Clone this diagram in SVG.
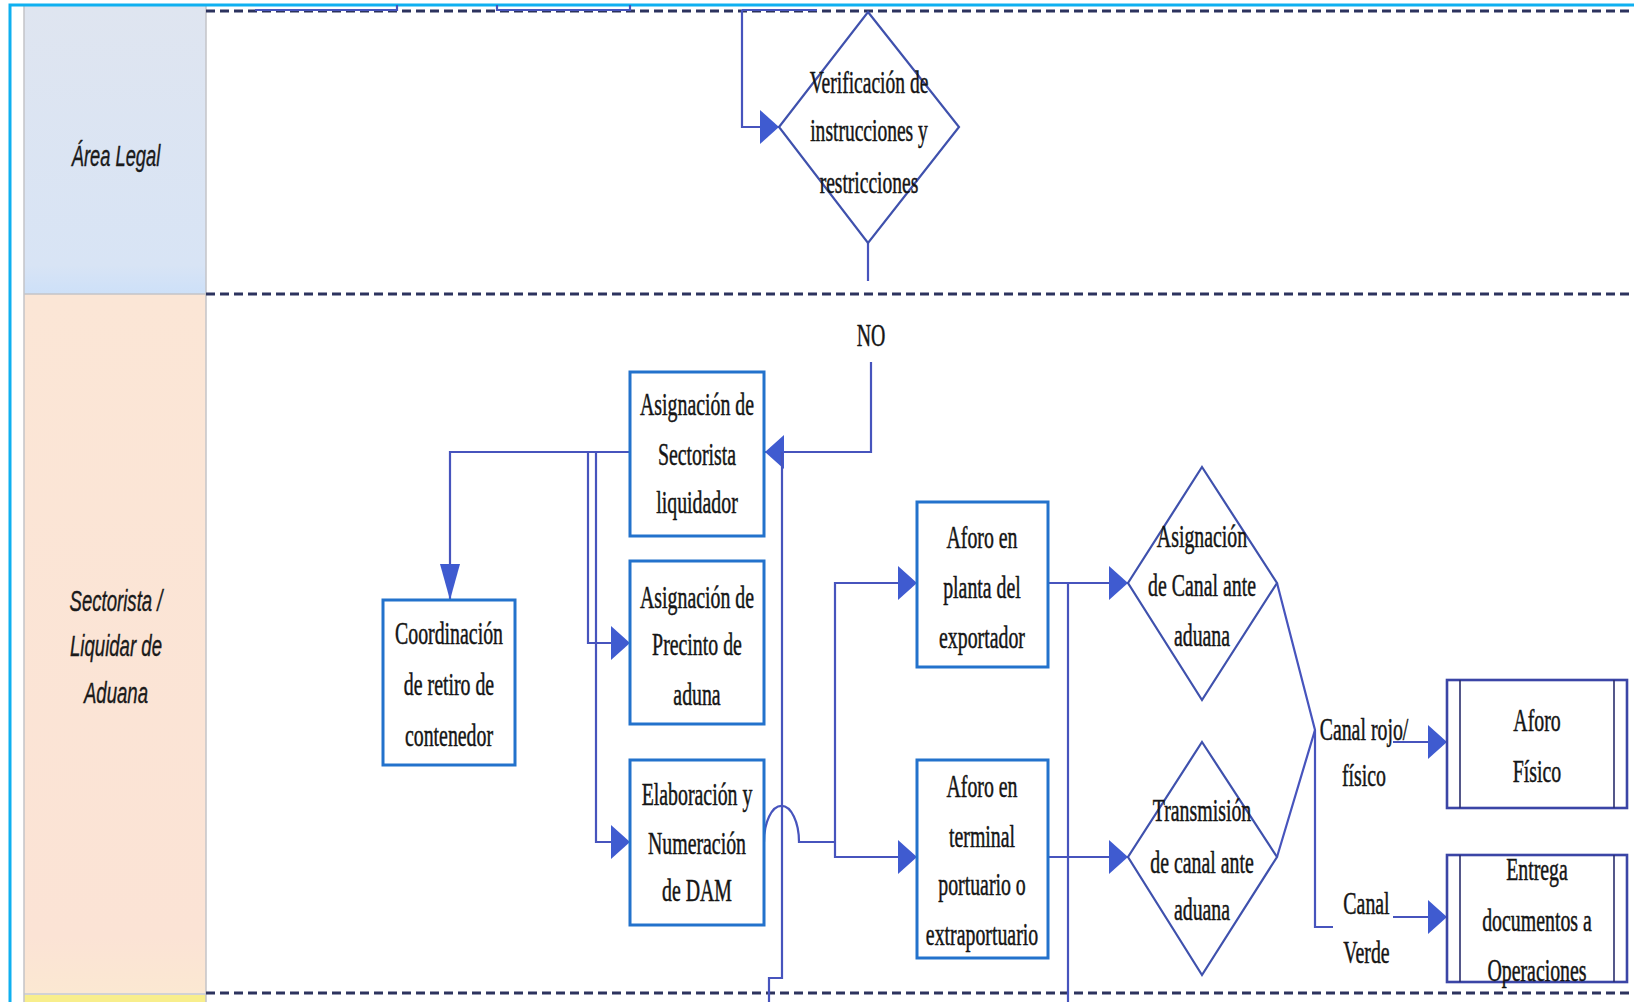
<svg xmlns="http://www.w3.org/2000/svg" width="1634" height="1002" viewBox="0 0 1634 1002">
  <style>
    .t { font-family: "Liberation Serif", "Times New Roman", serif; font-size: 32px; fill: #151515; stroke: #151515; stroke-width: 0.5; text-anchor: middle; }
    .lane { font-family: "Liberation Sans", Arial, sans-serif; font-style: italic; font-size: 30px; fill: #1a1a1a; stroke: #1a1a1a; stroke-width: 0.4; text-anchor: middle; }
    .box { fill: #ffffff; stroke: #2372cc; stroke-width: 3; }
    .dia { fill: #ffffff; stroke: #3f51ad; stroke-width: 2.2; }
    .pre { fill: #ffffff; stroke: #3b45a6; stroke-width: 2.6; }
    .pre-in { stroke: #2b2f6e; stroke-width: 1.6; }
    .sep { stroke: #2c335e; stroke-width: 3; stroke-dasharray: 9 5; fill: none; }
    .hdr-edge { stroke: #c4c4c8; stroke-width: 1.5; fill: none; }
    .c { fill: none; stroke: #4754bd; stroke-width: 2.2; }
    .ah { marker-end: url(#arrH); }
    .av { marker-end: url(#arrV); }
  </style>
  <defs>
    <marker id="arrH" markerUnits="userSpaceOnUse" markerWidth="20" markerHeight="34" refX="19" refY="17" orient="auto" viewBox="0 0 20 34">
      <path d="M0,0 L19,17 L0,34 z" fill="#3f5bd0"/>
    </marker>
    <marker id="arrV" markerUnits="userSpaceOnUse" markerWidth="37" markerHeight="20" refX="36" refY="10" orient="auto" viewBox="0 0 37 20">
      <path d="M0,0 L36,10 L0,20 z" fill="#3f5bd0"/>
    </marker>
    <linearGradient id="gLegal" x1="0" y1="0" x2="0" y2="1">
      <stop offset="0" stop-color="#dfe5f0"/>
      <stop offset="0.9" stop-color="#d8e4f5"/>
      <stop offset="1" stop-color="#cde0f8"/>
    </linearGradient>
    <linearGradient id="gSect" x1="0" y1="0" x2="0" y2="1">
      <stop offset="0" stop-color="#fbe6d6"/>
      <stop offset="0.92" stop-color="#fbe3d5"/>
      <stop offset="1" stop-color="#fbe8d2"/>
    </linearGradient>
  </defs>

  <rect x="0" y="0" width="1634" height="1002" fill="#ffffff"/>

  <!-- swimlane headers -->
  <g id="lane-legal">
    <rect x="24" y="5" width="182" height="289" fill="url(#gLegal)"/>
    <g transform="translate(116 0) scale(0.61 1)">
      <text class="lane" x="0" y="166">Área Legal</text>
    </g>
  </g>
  <g id="lane-sectorista">
    <rect x="24" y="294" width="182" height="699" fill="url(#gSect)"/>
    <g transform="translate(116 0) scale(0.62 1)">
      <text class="lane" x="0" y="611">Sectorista /</text>
      <text class="lane" x="0" y="656">Liquidar de</text>
      <text class="lane" x="0" y="703">Aduana</text>
    </g>
  </g>
  <rect x="24" y="995" width="182" height="7" fill="#f8ee8c"/>
  <path class="hdr-edge" d="M24,5 V1002 M206,5 V1002 M24,294 H206 M24,994 H206"/>

  <!-- outer frame -->
  <path d="M10,1002 V5 H1634" fill="none" stroke="#0fb0f0" stroke-width="3"/>

  <!-- lane separators -->
  <path class="sep" d="M206,11 H1634 M206,294 H1634 M206,993 H1634"/>

  <!-- connectors -->
  <g id="connectors">
    <path class="c" d="M255,10 H397 V5"/>
    <path class="c" d="M497,5 V10 H630 V5"/>
    <path class="c" d="M742,10 H817"/>
    <path class="c ah" d="M742,10 V127 H779"/>
    <path class="c" d="M868,243 V281"/>
    <path class="c ah" d="M871,362 V452 H765"/>
    <path class="c av" d="M630,452 H450 V600"/>
    <path class="c ah" d="M588,452 V643 H630"/>
    <path class="c ah" d="M596,452 V842 H630"/>
    <path class="c" d="M782,452 V978 H769 V1002"/>
    <path class="c" d="M764,842 A17,35 0 0 1 799,842 H835"/>
    <path class="c ah" d="M835,842 V583 H917"/>
    <path class="c ah" d="M835,842 V857 H917"/>
    <path class="c ah" d="M1048,583 H1128"/>
    <path class="c" d="M1068,583 V1002"/>
    <path class="c ah" d="M1048,857 H1128"/>
    <path class="c" d="M1277,583 L1315,730 L1277,857"/>
    <path class="c" d="M1315,730 V927 H1333"/>
    <path class="c ah" d="M1393,742 H1447"/>
    <path class="c ah" d="M1393,917 H1447"/>
  </g>

  <!-- decision: legal check -->
  <g id="verificacion">
    <polygon class="dia" points="868,12 959,127 868,243 779,127"/>
    <g transform="translate(869 0) scale(0.61 1)">
      <text class="t" x="0" y="93">Verificación de</text>
      <text class="t" x="0" y="141">instrucciones y</text>
      <text class="t" x="0" y="193">restricciones</text>
    </g>
  </g>

  <g id="label-no">
    <g transform="translate(871 0) scale(0.62 1)">
      <text class="t" x="0" y="346">NO</text>
    </g>
  </g>

  <g id="asignacion-sectorista">
    <rect class="box" x="630" y="372" width="134" height="164"/>
    <g transform="translate(697 0) scale(0.62 1)">
      <text class="t" x="0" y="415">Asignación de</text>
      <text class="t" x="0" y="465">Sectorista</text>
      <text class="t" x="0" y="513">liquidador</text>
    </g>
  </g>

  <g id="asignacion-precinto">
    <rect class="box" x="630" y="561" width="134" height="163"/>
    <g transform="translate(697 0) scale(0.62 1)">
      <text class="t" x="0" y="608">Asignación de</text>
      <text class="t" x="0" y="655">Precinto de</text>
      <text class="t" x="0" y="705">aduna</text>
    </g>
  </g>

  <g id="elaboracion-dam">
    <rect class="box" x="630" y="760" width="134" height="165"/>
    <g transform="translate(697 0) scale(0.62 1)">
      <text class="t" x="0" y="805">Elaboración y</text>
      <text class="t" x="0" y="854">Numeración</text>
      <text class="t" x="0" y="901">de DAM</text>
    </g>
  </g>

  <g id="coordinacion-retiro">
    <rect class="box" x="383" y="600" width="132" height="165"/>
    <g transform="translate(449 0) scale(0.62 1)">
      <text class="t" x="0" y="644">Coordinación</text>
      <text class="t" x="0" y="695">de retiro de</text>
      <text class="t" x="0" y="746">contenedor</text>
    </g>
  </g>

  <g id="aforo-planta">
    <rect class="box" x="917" y="502" width="131" height="165"/>
    <g transform="translate(982 0) scale(0.62 1)">
      <text class="t" x="0" y="548">Aforo en</text>
      <text class="t" x="0" y="598">planta del</text>
      <text class="t" x="0" y="648">exportador</text>
    </g>
  </g>

  <g id="aforo-terminal">
    <rect class="box" x="917" y="760" width="131" height="198"/>
    <g transform="translate(982 0) scale(0.62 1)">
      <text class="t" x="0" y="797">Aforo en</text>
      <text class="t" x="0" y="847">terminal</text>
      <text class="t" x="0" y="895">portuario o</text>
      <text class="t" x="0" y="945">extraportuario</text>
    </g>
  </g>

  <g id="asignacion-canal">
    <polygon class="dia" points="1202,467 1277,583 1202,700 1128,583"/>
    <g transform="translate(1202 0) scale(0.62 1)">
      <text class="t" x="0" y="547">Asignación</text>
      <text class="t" x="0" y="596">de Canal ante</text>
      <text class="t" x="0" y="646">aduana</text>
    </g>
  </g>

  <g id="transmision-canal">
    <polygon class="dia" points="1202,742 1277,857 1202,975 1128,857"/>
    <g transform="translate(1202 0) scale(0.62 1)">
      <text class="t" x="0" y="821">Transmisión</text>
      <text class="t" x="0" y="873">de canal ante</text>
      <text class="t" x="0" y="920">aduana</text>
    </g>
  </g>

  <g id="labels-canal">
    <g transform="translate(1364 0) scale(0.62 1)">
      <text class="t" x="0" y="740">Canal rojo/</text>
      <text class="t" x="0" y="786">físico</text>
      <text class="t" x="4" y="914">Canal</text>
      <text class="t" x="4" y="963">Verde</text>
    </g>
  </g>

  <g id="aforo-fisico">
    <rect class="pre" x="1447" y="680" width="180" height="128"/>
    <path class="pre-in" d="M1460,680 V808 M1614,680 V808"/>
    <g transform="translate(1537 0) scale(0.62 1)">
      <text class="t" x="0" y="731">Aforo</text>
      <text class="t" x="0" y="782">Físico</text>
    </g>
  </g>

  <g id="entrega-documentos">
    <rect class="pre" x="1447" y="855" width="180" height="127"/>
    <path class="pre-in" d="M1460,855 V982 M1614,855 V982"/>
    <g transform="translate(1537 0) scale(0.62 1)">
      <text class="t" x="0" y="880">Entrega</text>
      <text class="t" x="0" y="931">documentos a</text>
      <text class="t" x="0" y="981">Operaciones</text>
    </g>
  </g>
</svg>
